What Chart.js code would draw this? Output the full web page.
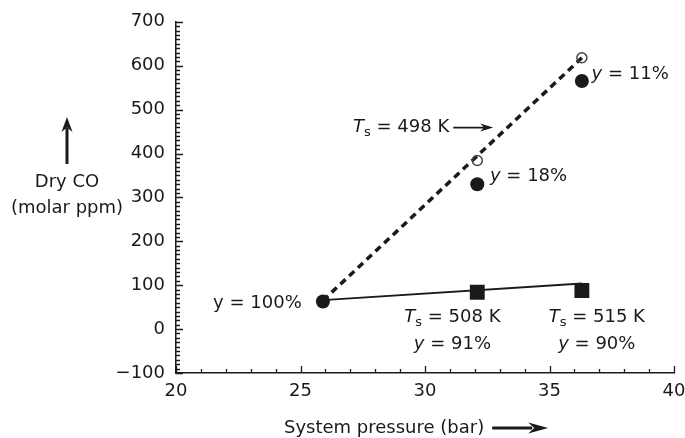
<!DOCTYPE html>
<html>
<head>
<meta charset="utf-8">
<script src="https://cdn.jsdelivr.net/npm/chart.js@4"></script>
<style>
    html, body { margin: 0; padding: 0; background: #fff; }
</style>
</head>
<body>
<canvas id="coChart" width="685" height="438"></canvas>
<script>
/* Dry CO vs system pressure */
const pressure = [25.9, 32.1, 36.3];
const coFilled = [63, 330, 565];          // filled circles, Ts = 498 K
const openPressure = [32.1, 36.3];
const coOpen = [384, 618];                // open circles on the dotted line
const squarePressure = [32.1, 36.3];
const coSquare = [84, 88];                // filled squares, Ts = 508 K / 515 K
const dottedX = [25.9, 36.3];
const dottedY = [65, 618];
const solidX = [25.9, 36.3];
const solidY = [66, 104];
const xRange = [20, 40];
const yRange = [-100, 700];

const FONT = '"DejaVu Sans", sans-serif';
const INK = '#1a1a1a';

function pts(xs, ys) {
    return xs.map((x, i) => ({ x: x, y: ys[i] }));
}

/* text notes placed in data units */
const notes = [
    { x: 25.05, y: 58, align: 'right', parts: [['y = 100%', '']] },
    { x: 32.61, y: 347, align: 'left', parts: [['y', 'i'], [' = 18%', '']] },
    { x: 36.69, y: 580, align: 'left', parts: [['y', 'i'], [' = 11%', '']] },
    { x: 27.11, y: 459, align: 'left', arrow: true, parts: [['T', 'i'], ['s', 's'], [' = 498 K', '']] },
    { x: 31.1, y: 27, align: 'center', parts: [['T', 'i'], ['s', 's'], [' = 508 K', '']] },
    { x: 31.1, y: -34, align: 'center', parts: [['y', 'i'], [' = 91%', '']] },
    { x: 36.9, y: 27, align: 'center', parts: [['T', 'i'], ['s', 's'], [' = 515 K', '']] },
    { x: 36.9, y: -34, align: 'center', parts: [['y', 'i'], [' = 90%', '']] }
];

function partFont(style) {
    if (style === 'i') return 'italic 18px ' + FONT;
    if (style === 's') return '13px ' + FONT;
    return '18px ' + FONT;
}

function drawRich(ctx, parts, x, y, align) {
    let w = 0;
    parts.forEach(p => { ctx.font = partFont(p[1]); w += ctx.measureText(p[0]).width; });
    let cx = align === 'center' ? x - w / 2 : (align === 'right' ? x - w : x);
    ctx.textAlign = 'left';
    ctx.textBaseline = 'middle';
    parts.forEach(p => {
        ctx.font = partFont(p[1]);
        ctx.fillText(p[0], cx, y + (p[1] === 's' ? 5 : 0));
        cx += ctx.measureText(p[0]).width;
    });
    return cx;
}

function arrowHead(ctx, tx, ty, dx, dy, len, half) {
    // tip at (tx, ty), pointing along (dx, dy)
    const nx = -dy, ny = dx;
    ctx.beginPath();
    ctx.moveTo(tx, ty);
    ctx.lineTo(tx - dx * len + nx * half, ty - dy * len + ny * half);
    ctx.lineTo(tx - dx * len * 0.7, ty - dy * len * 0.7);
    ctx.lineTo(tx - dx * len - nx * half, ty - dy * len - ny * half);
    ctx.closePath();
    ctx.fill();
}

const decorations = {
    id: 'decorations',
    afterDraw: function (chart) {
        const ctx = chart.ctx;
        const xs = chart.scales.x, ys = chart.scales.y;
        const area = chart.chartArea;
        ctx.save();
        ctx.strokeStyle = INK;
        ctx.fillStyle = INK;

        // inward ticks with minor ticks
        ctx.lineWidth = 1.3;
        ctx.beginPath();
        for (let v = xRange[0]; v <= xRange[1]; v++) {
            const px = Math.round(xs.getPixelForValue(v)) + 0.5;
            const len = v % 5 === 0 ? 7 : 4;
            ctx.moveTo(px, area.bottom);
            ctx.lineTo(px, area.bottom - len);
        }
        for (let v = yRange[0]; v <= yRange[1]; v += 10) {
            const py = Math.round(ys.getPixelForValue(v)) + 0.5;
            const len = v % 100 === 0 ? 7 : 4;
            ctx.moveTo(area.left, py);
            ctx.lineTo(area.left + len, py);
        }
        ctx.stroke();

        // notes
        notes.forEach(n => {
            const px = xs.getPixelForValue(n.x);
            const py = ys.getPixelForValue(n.y);
            const end = drawRich(ctx, n.parts, px, py, n.align);
            if (n.arrow) {
                ctx.lineWidth = 1.6;
                ctx.beginPath();
                ctx.moveTo(end + 4, py);
                ctx.lineTo(end + 38, py);
                ctx.stroke();
                arrowHead(ctx, end + 44, py, 1, 0, 13, 4);
            }
        });

        // y axis title with arrow
        drawRich(ctx, [['Dry CO', '']], 67, 182, 'center');
        drawRich(ctx, [['(molar ppm)', '']], 67, 208, 'center');
        ctx.lineWidth = 3;
        ctx.beginPath();
        ctx.moveTo(67, 164);
        ctx.lineTo(67, 128);
        ctx.stroke();
        arrowHead(ctx, 67, 117, 0, -1, 15, 5.5);

        // x axis title with arrow
        const xe = drawRich(ctx, [['System pressure (bar)', '']], 284, 428, 'left');
        ctx.beginPath();
        ctx.moveTo(xe + 8, 428);
        ctx.lineTo(xe + 48, 428);
        ctx.stroke();
        arrowHead(ctx, xe + 64, 428, 1, 0, 20, 5.5);
        ctx.restore();
    }
};

new Chart(document.getElementById('coChart').getContext('2d'), {
    type: 'scatter',
    data: {
        datasets: [{
            data: pts(pressure, coFilled),
            pointStyle: 'circle',
            pointRadius: 7,
            backgroundColor: INK,
            borderColor: INK,
            borderWidth: 0
        }, {
            data: pts(squarePressure, coSquare),
            pointStyle: 'rect',
            pointRadius: 10.5,
            backgroundColor: INK,
            borderColor: INK,
            borderWidth: 0
        }, {
            data: pts(openPressure, coOpen),
            pointStyle: 'circle',
            pointRadius: 5,
            backgroundColor: 'rgba(0,0,0,0)',
            borderColor: '#444',
            borderWidth: 1.5
        }, {
            data: pts(dottedX, dottedY),
            showLine: true,
            pointRadius: 0,
            borderColor: INK,
            borderWidth: 3.5,
            borderDash: [7, 5]
        }, {
            data: pts(solidX, solidY),
            showLine: true,
            pointRadius: 0,
            borderColor: INK,
            borderWidth: 2
        }]
    },
    options: {
        responsive: false,
        animation: false,
        layout: { padding: { top: 21, right: 11, left: 0, bottom: 0 } },
        plugins: {
            legend: { display: false },
            tooltip: { enabled: false }
        },
        scales: {
            x: {
                type: 'linear',
                min: xRange[0],
                max: xRange[1],
                grid: { display: false, drawTicks: false },
                border: { display: true, color: INK, width: 1.5 },
                ticks: { stepSize: 5, padding: 8, color: INK, font: { family: FONT, size: 18 } },
                afterFit: function (scale) {
                    scale.height = 65;
                    scale.paddingRight = 0;
                    scale.paddingLeft = 0;
                }
            },
            y: {
                type: 'linear',
                min: yRange[0],
                max: yRange[1],
                grid: { display: false, drawTicks: false },
                border: { display: true, color: INK, width: 1.5 },
                ticks: {
                    stepSize: 100,
                    padding: 11,
                    color: INK,
                    font: { family: FONT, size: 18 },
                    callback: v => v < 0 ? '\u2212' + Math.abs(v) : String(v)
                },
                afterFit: function (scale) { scale.width = 176; }
            }
        }
    },
    plugins: [decorations]
});
</script>
</body>
</html>
